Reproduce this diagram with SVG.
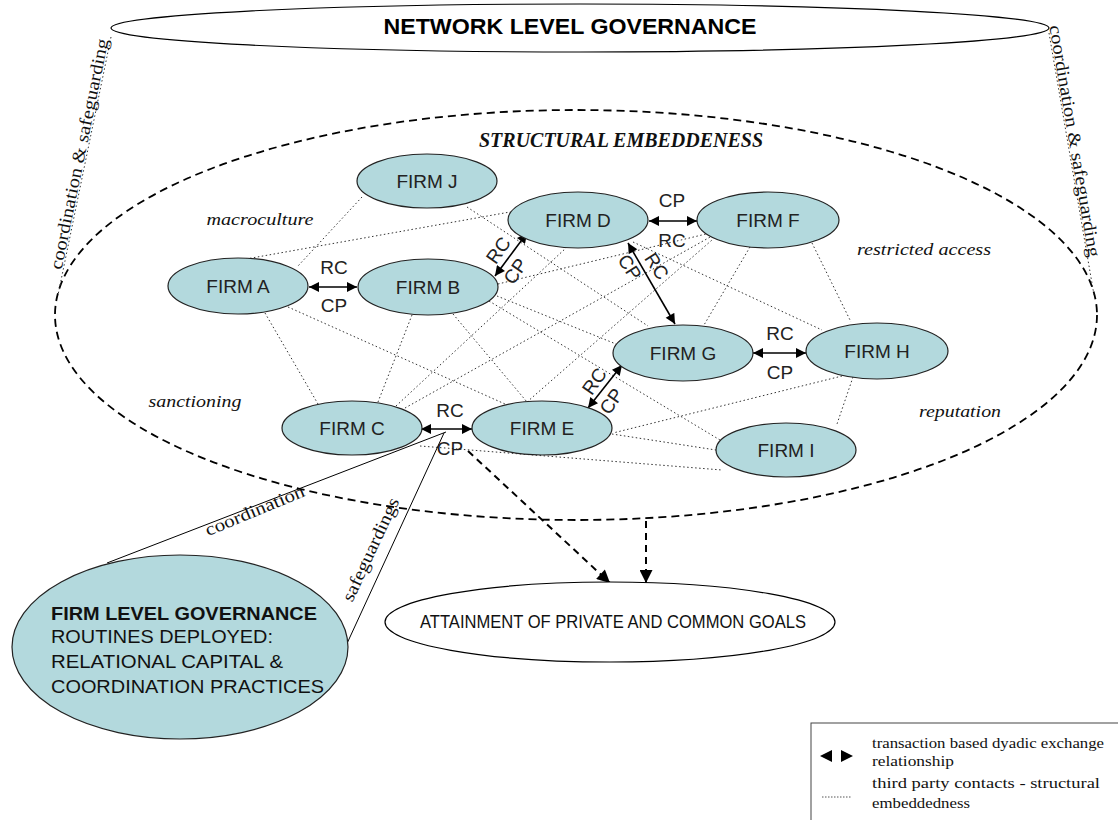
<svg xmlns="http://www.w3.org/2000/svg" width="1118" height="820" viewBox="0 0 1118 820">
<defs>
<marker id="ah" viewBox="0 0 10 10" refX="10" refY="5" markerWidth="11" markerHeight="10" markerUnits="userSpaceOnUse" orient="auto-start-reverse"><path d="M0,0 L10,5 L0,10 z" fill="#000"/></marker>
<marker id="ahBig" viewBox="0 0 10 10" refX="10" refY="5" markerWidth="14" markerHeight="13" markerUnits="userSpaceOnUse" orient="auto"><path d="M0,0 L10,5 L0,10 z" fill="#000"/></marker>
</defs>
<style>
.firm ellipse{fill:#b3d9dd;stroke:#222;stroke-width:1.2}
.firm text{font-family:"Liberation Sans",Arial,sans-serif;font-size:19px;fill:#222;text-anchor:middle}
.dot{stroke:#333;stroke-width:1;stroke-dasharray:1.5 2.5;fill:none}
.dyad{stroke:#000;stroke-width:1.6;fill:none;marker-start:url(#ah);marker-end:url(#ah)}
.dash{stroke:#000;stroke-width:2;stroke-dasharray:7 5;fill:none;marker-end:url(#ahBig)}
.thin{stroke:#000;stroke-width:1;fill:none}
.lbl{font-family:"Liberation Sans",Arial,sans-serif;font-size:19px;fill:#222;text-anchor:middle}
.it{font-family:"Liberation Serif","Times New Roman",serif;font-style:italic;font-size:17px;fill:#111}
.ser{font-family:"Liberation Serif","Times New Roman",serif;font-size:18px;fill:#111}
.leg{font-family:"Liberation Serif","Times New Roman",serif;font-size:15.5px;fill:#111}
</style>
<rect width="1118" height="820" fill="#fff"/>

<g id="network-level">
<ellipse cx="580" cy="28" rx="469" ry="24" fill="#fff" stroke="#000" stroke-width="1.2"/>
<text x="570" y="34" text-anchor="middle" font-family="'Liberation Sans',Arial,sans-serif" font-weight="bold" font-size="22" textLength="373" lengthAdjust="spacingAndGlyphs" fill="#000">NETWORK LEVEL GOVERNANCE</text>
</g>

<g id="structural-embeddedness">
<ellipse cx="576" cy="315" rx="521" ry="205" fill="none" stroke="#000" stroke-width="1.8" stroke-dasharray="8 5"/>
<text x="621" y="147" text-anchor="middle" font-family="'Liberation Serif','Times New Roman',serif" font-weight="bold" font-style="italic" font-size="20" textLength="284" lengthAdjust="spacingAndGlyphs" fill="#111">STRUCTURAL EMBEDDENESS</text>
<text class="it" x="260" y="225" text-anchor="middle" textLength="107" lengthAdjust="spacingAndGlyphs">macroculture</text>
<text class="it" x="924" y="255" text-anchor="middle" textLength="134" lengthAdjust="spacingAndGlyphs">restricted access</text>
<text class="it" x="195" y="407" text-anchor="middle" textLength="93" lengthAdjust="spacingAndGlyphs">sanctioning</text>
<text class="it" x="960" y="417" text-anchor="middle" textLength="82" lengthAdjust="spacingAndGlyphs">reputation</text>
</g>

<g id="connectors">
<path class="dot" d="M111,37 L58,295"/>
<path class="dot" d="M1049,33 L1094,295"/>
<text class="ser" transform="translate(85,155) rotate(-78.5)" x="0" y="0" text-anchor="middle" textLength="235" lengthAdjust="spacingAndGlyphs">coordination &amp; safeguarding</text>
<text class="ser" transform="translate(1069,142) rotate(80.3)" x="0" y="0" text-anchor="middle" textLength="235" lengthAdjust="spacingAndGlyphs">coordination &amp; safeguarding</text>

<path class="dot" d="M362,197 L298,266"/>
<path class="dot" d="M467,207 L648,326"/>
<path class="dot" d="M246,259 L510,212"/>
<path class="dot" d="M265,313 L318,404"/>
<path class="dot" d="M288,307 L505,404"/>
<path class="dot" d="M412,315 L378,402"/>
<path class="dot" d="M453,314 L527,402"/>
<path class="dot" d="M489,301 L720,440"/>
<path class="dot" d="M498,284 L706,234"/>
<path class="dot" d="M497,296 L616,344"/>
<path class="dot" d="M396,406 L566,248"/>
<path class="dot" d="M405,408 L712,236"/>
<path class="dot" d="M527,402 L712,240"/>
<path class="dot" d="M420,446 L722,470"/>
<path class="dot" d="M633,242 L822,330"/>
<path class="dot" d="M750,247 L704,325"/>
<path class="dot" d="M812,243 L851,322"/>
<path class="dot" d="M842,376 L613,433"/>
<path class="dot" d="M853,377 L837,424"/>
<path class="dot" d="M612,434 L716,450"/>

<path class="dyad" d="M309,287 L357,287"/>
<path class="dyad" d="M649,221 L697,221"/>
<path class="dyad" d="M421,429 L472,429"/>
<path class="dyad" d="M753,353 L806,353"/>
<path class="dyad" d="M495,276 L527,233"/>
<path class="dyad" d="M628,243 L675,324"/>
<path class="dyad" d="M588,408 L622,365"/>

<text class="lbl" x="334" y="274">RC</text>
<text class="lbl" x="334" y="312">CP</text>
<text class="lbl" x="672" y="207">CP</text>
<text class="lbl" x="672" y="247">RC</text>
<text class="lbl" x="450" y="417">RC</text>
<text class="lbl" x="450" y="455">CP</text>
<text class="lbl" x="780" y="340">RC</text>
<text class="lbl" x="780" y="379">CP</text>
<text class="lbl" transform="translate(498,250) rotate(-55)" x="0" y="7">RC</text>
<text class="lbl" transform="translate(515,271) rotate(-55)" x="0" y="7">CP</text>
<text class="lbl" transform="translate(630,267) rotate(57)" x="0" y="7">CP</text>
<text class="lbl" transform="translate(657,266) rotate(57)" x="0" y="7">RC</text>
<text class="lbl" transform="translate(594,381) rotate(-55)" x="0" y="7">RC</text>
<text class="lbl" transform="translate(611,401) rotate(-55)" x="0" y="7">CP</text>

<path class="thin" d="M446,432 L107,563"/>
<path class="thin" d="M444,433 L344,650"/>
<text class="ser" transform="translate(257,516) rotate(-22.5)" x="0" y="0" text-anchor="middle" textLength="106" lengthAdjust="spacingAndGlyphs">coordination</text>
<text class="ser" transform="translate(376,552) rotate(-65)" x="0" y="0" text-anchor="middle" textLength="112" lengthAdjust="spacingAndGlyphs">safeguardings</text>

<path class="dash" d="M468,451 L610,583"/>
<path class="dash" d="M646,521 L646,583"/>
</g>

<g id="firm-j" class="firm"><ellipse cx="427" cy="181" rx="70" ry="27"/><text x="427" y="188">FIRM J</text></g>
<g id="firm-d" class="firm"><ellipse cx="578" cy="220" rx="70" ry="28"/><text x="578" y="227">FIRM D</text></g>
<g id="firm-f" class="firm"><ellipse cx="768" cy="220" rx="71" ry="28"/><text x="768" y="227">FIRM F</text></g>
<g id="firm-a" class="firm"><ellipse cx="238" cy="286" rx="70" ry="28"/><text x="238" y="293">FIRM A</text></g>
<g id="firm-b" class="firm"><ellipse cx="428" cy="287" rx="70" ry="28"/><text x="428" y="294">FIRM B</text></g>
<g id="firm-g" class="firm"><ellipse cx="683" cy="353" rx="70" ry="28"/><text x="683" y="360">FIRM G</text></g>
<g id="firm-h" class="firm"><ellipse cx="877" cy="351" rx="71" ry="28"/><text x="877" y="358">FIRM H</text></g>
<g id="firm-c" class="firm"><ellipse cx="352" cy="428" rx="70" ry="27"/><text x="352" y="435">FIRM C</text></g>
<g id="firm-e" class="firm"><ellipse cx="542" cy="428" rx="70" ry="27"/><text x="542" y="435">FIRM E</text></g>
<g id="firm-i" class="firm"><ellipse cx="786" cy="450" rx="70" ry="27"/><text x="786" y="457">FIRM I</text></g>

<g id="firm-level-governance">
<ellipse cx="180" cy="647" rx="168" ry="92" fill="#b3d9dd" stroke="#222" stroke-width="1.2"/>
<g font-family="'Liberation Sans',Arial,sans-serif" font-size="19" fill="#111">
<text x="51" y="620" font-weight="bold" textLength="266" lengthAdjust="spacingAndGlyphs">FIRM LEVEL GOVERNANCE</text>
<text x="51" y="643" textLength="222" lengthAdjust="spacingAndGlyphs">ROUTINES DEPLOYED:</text>
<text x="51" y="668" textLength="232" lengthAdjust="spacingAndGlyphs">RELATIONAL CAPITAL &amp;</text>
<text x="51" y="693" textLength="273" lengthAdjust="spacingAndGlyphs">COORDINATION PRACTICES</text>
</g>
</g>

<g id="goals">
<ellipse cx="610" cy="622" rx="225" ry="40" fill="#fff" stroke="#000" stroke-width="1.2"/>
<text x="613" y="628" text-anchor="middle" font-family="'Liberation Sans',Arial,sans-serif" font-size="19" textLength="386" lengthAdjust="spacingAndGlyphs" fill="#111">ATTAINMENT OF PRIVATE AND COMMON GOALS</text>
</g>

<g id="legend">
<rect x="811" y="723" width="320" height="110" fill="#fff" stroke="#444" stroke-width="1"/>
<path d="M820,756 L832,750 L832,762 z" fill="#000"/>
<path d="M853,756 L841,750 L841,762 z" fill="#000"/>
<path d="M822,797 L852,797" stroke="#555" stroke-width="1" stroke-dasharray="1.5 1.5"/>
<text class="leg" x="872" y="748" textLength="232" lengthAdjust="spacingAndGlyphs">transaction based dyadic exchange</text>
<text class="leg" x="872" y="766" textLength="82" lengthAdjust="spacingAndGlyphs">relationship</text>
<text class="leg" x="872" y="788" textLength="228" lengthAdjust="spacingAndGlyphs">third party contacts - structural</text>
<text class="leg" x="872" y="808" textLength="98" lengthAdjust="spacingAndGlyphs">embeddedness</text>
</g>
</svg>
